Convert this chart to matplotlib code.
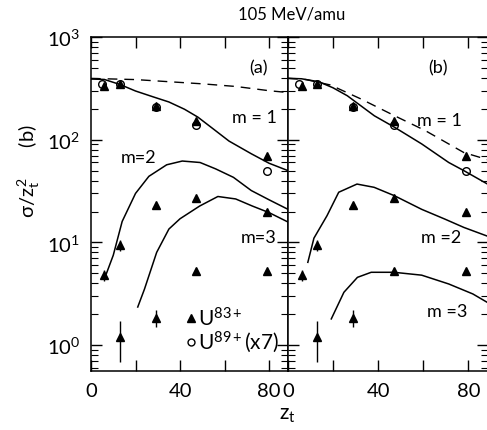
import numpy as np
import matplotlib
matplotlib.use('Agg')
import matplotlib.pyplot as plt

plt.rcParams['font.family'] = ['Lato', 'DejaVu Sans']
plt.rcParams['mathtext.fontset'] = 'custom'
plt.rcParams['mathtext.rm'] = 'Lato'
plt.rcParams['mathtext.it'] = 'Lato'

# measured cross sections (same points in both panels)
m1_tri_z = [6, 13, 29, 47, 79]
m1_tri_v = [333, 350, 212, 152, 69]
m1_circ_z = [5, 13, 29, 47, 79]
m1_circ_v = [345, 350, 210, 138, 50]

m2_z = [6, 13, 29, 47, 79]
m2_v = [4.8, 9.4, 23, 27, 19.8]
m2_lo = [4.2, 8.2, 23, 25.5, 19.8]
m2_hi = [5.4, 10.5, 23, 28.5, 19.8]

m3_z = [13, 29, 47, 79]
m3_v = [1.2, 1.85, 5.25, 5.3]
m3_lo = [0.68, 1.5, 5.0, 5.3]
m3_hi = [1.7, 2.2, 5.6, 5.3]

# calculations, panel (a)
a_dash_z = [0, 20, 35, 50, 65, 80, 88.5]
a_dash_v = [395, 385, 367, 350, 330, 300, 288]
a_m1_z = [0, 6, 13, 20, 28, 35, 42, 48, 55, 62, 72, 80, 88.5]
a_m1_v = [390, 386, 345, 298, 261, 233, 198, 166, 127, 97, 73, 59, 50]
a_m2_z = [6, 10, 14, 20, 26, 34, 41, 49, 56, 64, 72, 80, 88.5]
a_m2_v = [4.4, 7.5, 16, 30, 44, 57, 62, 60, 52, 43, 32, 26, 21]
a_m3_z = [21, 24, 29.5, 35, 40, 48.8, 57, 65, 72.5, 80, 88.5]
a_m3_v = [2.35, 3.5, 8.0, 13.5, 17, 22.6, 28, 26.5, 22.6, 19.5, 15.8]

# calculations, panel (b)
b_dash_z = [0, 8, 18.8, 32.4, 47.3, 60.8, 78, 88.5]
b_dash_v = [396, 385, 341, 249, 171, 123, 75, 64]
b_m1_z = [0, 6, 13.6, 20, 26.3, 38.3, 47.3, 59.3, 71.3, 78, 88.5]
b_m1_v = [396, 392, 367, 320, 268, 171, 132, 91, 60, 50, 37]
b_m2_z = [8.8, 11.5, 17.3, 22.5, 30.6, 38.2, 47.2, 59.3, 69.5, 78, 88.5]
b_m2_v = [6.4, 11, 18.2, 30.8, 37, 34.4, 28.5, 21, 16.9, 14, 11.5]
b_m3_z = [19.2, 24.8, 30.8, 36.9, 47, 59.3, 71.3, 82, 88.5]
b_m3_v = [1.8, 3.27, 4.57, 5.12, 5.12, 4.8, 3.94, 3.15, 2.6]

W, H = 487, 431
fig = plt.figure(figsize=(W / 100, H / 100), dpi=100)
x0, xm, x1 = 91 / W, 288 / W, 487.5 / W
y0, y1 = 1 - 372 / H, 1 - 38 / H
ax_a = fig.add_axes([x0, y0, xm - x0, y1 - y0])
ax_b = fig.add_axes([xm, y0, x1 - xm, y1 - y0])

tri_kw = dict(marker='^', color='k', ms=5.5, ls='none', zorder=4)
circ_kw = dict(marker='o', mfc='none', mec='k', mew=1.0, ms=5.5, ls='none', zorder=5)

curves = {
    ax_a: (a_dash_z, a_dash_v, a_m1_z, a_m1_v, a_m2_z, a_m2_v, a_m3_z, a_m3_v),
    ax_b: (b_dash_z, b_dash_v, b_m1_z, b_m1_v, b_m2_z, b_m2_v, b_m3_z, b_m3_v),
}

for ax, (dz, dv, z1, v1, z2, v2, z3, v3) in curves.items():
    ax.plot(dz, dv, 'k--', lw=1.0, dashes=(7, 5))
    ax.plot(z1, v1, 'k-', lw=1.1)
    ax.plot(z2, v2, 'k-', lw=1.1)
    ax.plot(z3, v3, 'k-', lw=1.1)

    ax.plot(m1_tri_z, m1_tri_v, **tri_kw)
    ax.plot(m2_z, m2_v, **tri_kw)
    ax.plot(m3_z, m3_v, **tri_kw)
    ax.plot(m1_circ_z, m1_circ_v, **circ_kw)
    ax.vlines(m2_z, m2_lo, m2_hi, color='k', lw=1.0)
    ax.vlines(m3_z, m3_lo, m3_hi, color='k', lw=1.0)

    ax.set_yscale('log')
    ax.set_ylim(0.56, 1000)
    ax.set_xlim(0, 88.5)
    ax.set_xticks([0, 20, 40, 60, 80])
    ax.set_xticklabels(['0', '', '40', '', '80'])
    ax.tick_params(which='both', direction='in', top=True, right=True,
                   labelsize=14.5, pad=8)
    ax.tick_params(which='major', length=8, width=1.0)
    ax.tick_params(which='minor', length=5, width=0.8)
    for s in ax.spines.values():
        s.set_linewidth(1.1)

ax_a.set_yticks([1, 10, 100, 1000])
ax_a.set_yticklabels([r'$10^0$', r'$10^1$', r'$10^2$', r'$10^3$'])
ax_b.tick_params(labelleft=False)

ax_a.set_ylabel(r'$\sigma/z_{\mathrm{t}}^{2}$      (b)', fontsize=14.5)
ax_a.yaxis.set_label_coords(-0.25, 0.60)

fig.text(292 / W, 1 - 15 / H, '105 MeV/amu', ha='center', va='center', fontsize=12)
fig.text(287 / W, 1 - 415 / H, r'$z_{\mathrm{t}}$', ha='center', va='center', fontsize=15)

lbl = dict(ha='center', va='center', fontsize=13)
ax_a.text(0.85, 0.91, '(a)', transform=ax_a.transAxes, **lbl)
ax_a.text(0.83, 0.76, 'm = 1', transform=ax_a.transAxes, **lbl)
ax_a.text(0.24, 0.64, 'm=2', transform=ax_a.transAxes, **lbl)
ax_a.text(0.85, 0.40, 'm=3', transform=ax_a.transAxes, **lbl)
ax_b.text(0.75, 0.91, '(b)', transform=ax_b.transAxes, **lbl)
ax_b.text(0.76, 0.75, 'm = 1', transform=ax_b.transAxes, **lbl)
ax_b.text(0.77, 0.40, 'm =2', transform=ax_b.transAxes, **lbl)
ax_b.text(0.80, 0.18, 'm =3', transform=ax_b.transAxes, **lbl)

# legend drawn by hand inside panel (a)
ax_a.plot([45], [1.85], marker='^', color='k', ms=5.5, ls='none')
ax_a.text(48, 1.85, r'U$^{83+}$', ha='left', va='center', fontsize=15)
ax_a.plot([45], [1.08], marker='o', mfc='none', mec='k', ms=5, ls='none')
ax_a.text(48, 1.08, r'U$^{89+}$(x7)', ha='left', va='center', fontsize=15)

fig.savefig('out.png', dpi=100)
